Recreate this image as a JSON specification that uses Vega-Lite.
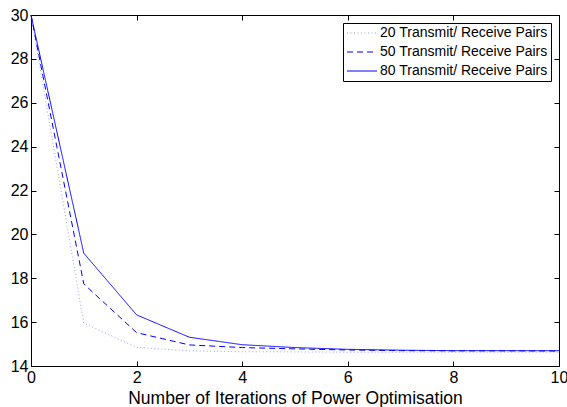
{
  "$schema": "https://vega.github.io/schema/vega-lite/v6.json",
  "width": 528,
  "height": 351,
  "autosize": {"type": "none"},
  "padding": {"left": 31, "top": 15, "right": 8, "bottom": 41},
  "background": "white",
  "config": {
    "font": "Liberation Sans",
    "view": {"stroke": "black", "strokeWidth": 1},
    "axis": {
      "grid": false,
      "domain": false,
      "tickColor": "black",
      "tickSize": -5,
      "labelColor": "black",
      "labelFont": "Liberation Sans",
      "labelFontSize": 16,
      "titleColor": "black",
      "titleFont": "Liberation Sans",
      "titleFontSize": 17.5,
      "titleFontWeight": "normal"
    },
    "legend": {
      "orient": "none",
      "legendX": 312,
      "legendY": 8,
      "strokeColor": "black",
      "fillColor": "white",
      "padding": 3,
      "rowPadding": 5,
      "cornerRadius": 0,
      "labelFont": "Liberation Sans",
      "labelFontSize": 14,
      "labelColor": "black",
      "labelLimit": 300,
      "labelOffset": 11,
      "symbolType": "M-2.5,0H2.5",
      "symbolSize": 144,
      "symbolOffset": 9,
      "symbolStrokeWidth": 1
    }
  },
  "data": {
    "values": [
      {"iter": 0, "value": 30, "series": "20 Transmit/ Receive Pairs"},
      {"iter": 1, "value": 15.95, "series": "20 Transmit/ Receive Pairs"},
      {"iter": 2, "value": 14.85, "series": "20 Transmit/ Receive Pairs"},
      {"iter": 3, "value": 14.69, "series": "20 Transmit/ Receive Pairs"},
      {"iter": 4, "value": 14.65, "series": "20 Transmit/ Receive Pairs"},
      {"iter": 5, "value": 14.64, "series": "20 Transmit/ Receive Pairs"},
      {"iter": 6, "value": 14.63, "series": "20 Transmit/ Receive Pairs"},
      {"iter": 7, "value": 14.63, "series": "20 Transmit/ Receive Pairs"},
      {"iter": 8, "value": 14.63, "series": "20 Transmit/ Receive Pairs"},
      {"iter": 9, "value": 14.63, "series": "20 Transmit/ Receive Pairs"},
      {"iter": 10, "value": 14.63, "series": "20 Transmit/ Receive Pairs"},
      {"iter": 0, "value": 30, "series": "50 Transmit/ Receive Pairs"},
      {"iter": 1, "value": 17.74, "series": "50 Transmit/ Receive Pairs"},
      {"iter": 2, "value": 15.52, "series": "50 Transmit/ Receive Pairs"},
      {"iter": 3, "value": 14.96, "series": "50 Transmit/ Receive Pairs"},
      {"iter": 4, "value": 14.84, "series": "50 Transmit/ Receive Pairs"},
      {"iter": 5, "value": 14.78, "series": "50 Transmit/ Receive Pairs"},
      {"iter": 6, "value": 14.73, "series": "50 Transmit/ Receive Pairs"},
      {"iter": 7, "value": 14.7, "series": "50 Transmit/ Receive Pairs"},
      {"iter": 8, "value": 14.69, "series": "50 Transmit/ Receive Pairs"},
      {"iter": 9, "value": 14.69, "series": "50 Transmit/ Receive Pairs"},
      {"iter": 10, "value": 14.68, "series": "50 Transmit/ Receive Pairs"},
      {"iter": 0, "value": 30, "series": "80 Transmit/ Receive Pairs"},
      {"iter": 1, "value": 19.14, "series": "80 Transmit/ Receive Pairs"},
      {"iter": 2, "value": 16.33, "series": "80 Transmit/ Receive Pairs"},
      {"iter": 3, "value": 15.31, "series": "80 Transmit/ Receive Pairs"},
      {"iter": 4, "value": 14.97, "series": "80 Transmit/ Receive Pairs"},
      {"iter": 5, "value": 14.84, "series": "80 Transmit/ Receive Pairs"},
      {"iter": 6, "value": 14.76, "series": "80 Transmit/ Receive Pairs"},
      {"iter": 7, "value": 14.72, "series": "80 Transmit/ Receive Pairs"},
      {"iter": 8, "value": 14.7, "series": "80 Transmit/ Receive Pairs"},
      {"iter": 9, "value": 14.7, "series": "80 Transmit/ Receive Pairs"},
      {"iter": 10, "value": 14.7, "series": "80 Transmit/ Receive Pairs"}
    ]
  },
  "layer": [
    {
      "mark": {"type": "line", "strokeWidth": 1},
      "encoding": {
        "x": {
          "field": "iter",
          "type": "quantitative",
          "scale": {"domain": [0, 10], "nice": false},
          "axis": {
            "orient": "bottom",
            "values": [0, 2, 4, 6, 8, 10],
            "title": "Number of Iterations of Power Optimisation",
            "labelPadding": 8,
            "labelFlush": false,
            "titleBaseline": "alphabetic",
            "titleY": 37
          }
        },
        "y": {
          "field": "value",
          "type": "quantitative",
          "scale": {"domain": [14, 30], "nice": false, "zero": false},
          "axis": {
            "orient": "left",
            "values": [14, 16, 18, 20, 22, 24, 26, 28, 30],
            "title": null,
            "labelPadding": 8,
            "labelFlush": false
          }
        },
        "color": {
          "field": "series",
          "type": "nominal",
          "scale": {
            "domain": ["20 Transmit/ Receive Pairs", "50 Transmit/ Receive Pairs", "80 Transmit/ Receive Pairs"],
            "range": ["#9a9aff", "#0000ff", "#0000ff"]
          },
          "legend": {"title": null}
        },
        "strokeDash": {
          "field": "series",
          "type": "nominal",
          "scale": {
            "domain": ["20 Transmit/ Receive Pairs", "50 Transmit/ Receive Pairs", "80 Transmit/ Receive Pairs"],
            "range": [[1, 2.5], [6, 4], [1, 0]]
          },
          "legend": {"title": null}
        }
      }
    },
    {
      "mark": {"type": "line", "opacity": 0},
      "encoding": {
        "x": {
          "field": "iter",
          "type": "quantitative",
          "axis": {"orient": "top", "values": [0, 2, 4, 6, 8, 10], "labels": false, "title": null}
        },
        "y": {
          "field": "value",
          "type": "quantitative",
          "axis": {"orient": "right", "values": [14, 16, 18, 20, 22, 24, 26, 28, 30], "labels": false, "title": null}
        },
        "detail": {"field": "series", "type": "nominal"}
      }
    }
  ]
}
